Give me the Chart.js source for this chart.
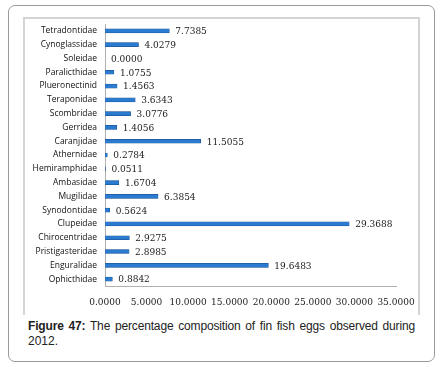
<!DOCTYPE html>
<html><head><meta charset="utf-8">
<script src="https://cdn.jsdelivr.net/npm/chart.js@4/dist/chart.umd.min.js"></script>
<style>
html,body{margin:0;padding:0;background:#fff;width:446px;height:367px;overflow:hidden}
#outer{position:absolute;left:8px;top:5px;width:425px;height:355px;border:1px solid #9a9a9a;border-radius:7px}
#inner{position:absolute;left:23px;top:17px;width:393px;height:296px;border:2px solid #d4d4d4;border-bottom:none}
#wrap{position:absolute;left:0;top:0;width:446px;height:310px}
#cap{position:absolute;left:28px;top:319px;width:387px;font-family:"Liberation Sans",Arial,sans-serif;font-size:12px;line-height:15px;color:#222}
#cap .l1{white-space:nowrap;text-align:justify;text-align-last:justify;letter-spacing:-0.15px}
</style></head><body>
<div id="outer"></div><div id="inner"></div>
<div id="wrap"><canvas id="c" width="446" height="310"></canvas></div>
<div id="cap"><div class="l1"><b>Figure 47:</b> The percentage composition of fin fish eggs observed during</div><div>2012.</div></div>
<script>
const families = ["Tetradontidae","Cynoglassidae","Soleidae","Paralicthidae","Plueronectinid","Teraponidae","Scombridae","Gerridea","Caranjidae","Athernidae","Hemiramphidae","Ambasidae","Mugilidae","Synodontidae","Clupeidae","Chirocentridae","Pristigasteridae","Enguralidae","Ophicthidae"];
const percent = [7.7385,4.0279,0.0000,1.0755,1.4563,3.6343,3.0776,1.4056,11.5055,0.2784,0.0511,1.6704,6.3854,0.5624,29.3688,2.9275,2.8985,19.6483,0.8842];
const xTicks = [0,5,10,15,20,25,30,35];

const valueLabels = {
  id:'valueLabels',
  afterDatasetsDraw(chart){
    const ctx = chart.ctx, meta = chart.getDatasetMeta(0);
    ctx.save();
    ctx.font = '9px "DejaVu Serif", serif';
    ctx.fillStyle = '#222';
    ctx.textBaseline = 'middle';
    meta.data.forEach((bar,i)=>{
      ctx.fillText(percent[i].toFixed(4), bar.x + 6, bar.y + 1);
    });
    ctx.restore();
  }
};

new Chart(document.getElementById('c'),{
  type:'bar',
  data:{labels:families,datasets:[{
    data:percent,
    backgroundColor:(c)=>{
      const a=c.chart.chartArea; if(!a) return '#2a7ad0';
      const bar=c.element; 
      if(!bar||bar.y===undefined) return '#2a7ad0';
      const g=c.chart.ctx.createLinearGradient(0,bar.y-2,0,bar.y+2);
      g.addColorStop(0,'#7fb6ee');g.addColorStop(0.5,'#2f7fd6');g.addColorStop(1,'#15508f');
      return g;
    },
    borderColor:'#174a85',borderWidth:0.5,barThickness:4
  }]},
  options:{
    indexAxis:'y',responsive:false,animation:false,
    layout:{padding:{top:24,right:50,left:0,bottom:0}},
    plugins:{legend:{display:false},tooltip:{enabled:false}},
    scales:{
      x:{min:0,max:35,
        afterBuildTicks:(s)=>{s.ticks=xTicks.map(v=>({value:v}));},
        afterFit:(s)=>{s.height=24;},
        grid:{display:false,drawTicks:false},
        border:{display:true,color:'#b0b0b0',width:1},
        ticks:{padding:11,color:'#222',font:{family:'"DejaVu Serif", serif',size:9},callback:(v)=>Number(v).toFixed(4),maxRotation:0,autoSkip:false}},
      y:{
        afterFit:(s)=>{s.width=105;},
        grid:{display:false,drawTicks:false},
        border:{display:true,color:'#b0b0b0',width:1},
        ticks:{padding:8,color:'#111',font:{family:'"Open Sans", sans-serif',size:8.5},autoSkip:false}}
    }
  },
  plugins:[valueLabels]
});
</script>
</body></html>
